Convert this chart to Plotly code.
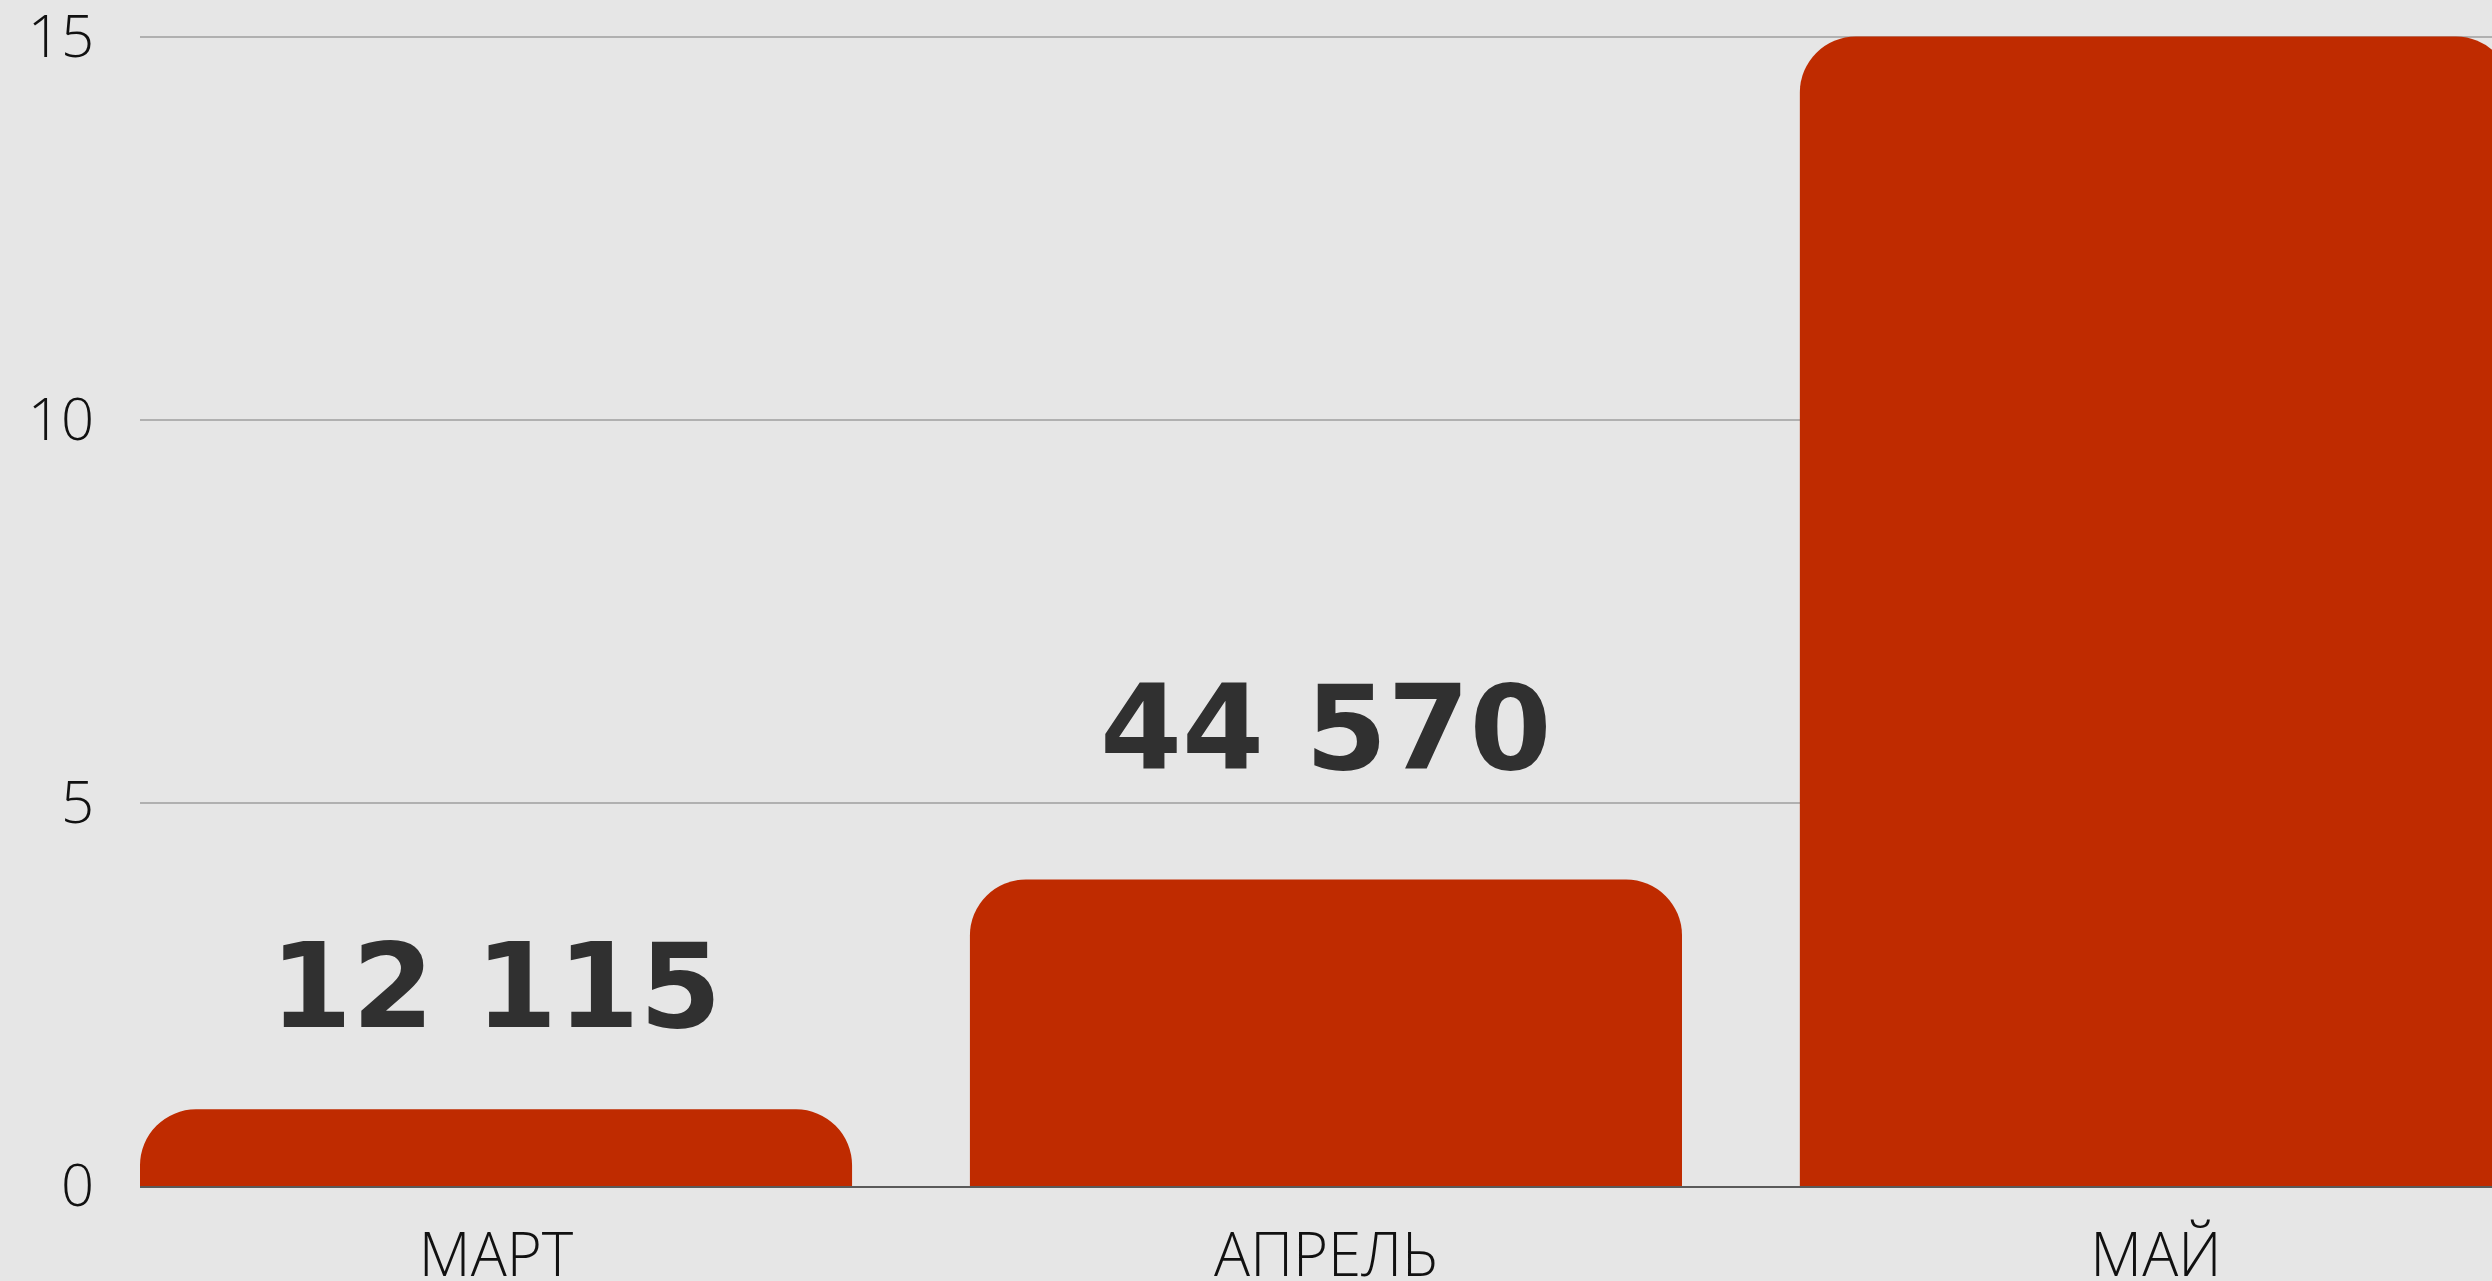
#! python3
# monthly bar chart with rounded bars and big value labels
import plotly.graph_objects as go

months = ['МАРТ', 'АПРЕЛЬ', 'МАЙ']
values = [1, 4, 15]
value_labels = ['12 115', '44 570']
y_ticks = [0, 5, 10, 15]

BAR_RED = '#bf2b00'
BG = '#e6e6e6'

fig = go.Figure(go.Bar(
    x=months,
    y=values,
    marker_color=BAR_RED,
    marker_line_width=0,
    width=0.858,
    hoverinfo='skip'))

# label offsets above bar tops, in pixels
label_shift = [123, 151]
for m, v, txt, dy in zip(months, values, value_labels, label_shift):
    fig.add_annotation(
        x=m, y=v, text=txt, showarrow=False,
        yanchor='middle', yshift=dy,
        font=dict(family='DejaVu Sans', size=118, color='#303030',
                  weight='bold'))

fig.update_layout(
    width=2492, height=1281,
    margin=dict(l=140, r=0, t=35, b=95),
    paper_bgcolor=BG,
    plot_bgcolor=BG,
    barcornerradius=56,
    showlegend=False,
    xaxis=dict(
        type='category',
        range=[-0.429, 2.405],
        automargin=False,
        showgrid=False,
        showline=True, linecolor='#5a5a5a', linewidth=2,
        ticks='',
        tickfont=dict(family='Open Sans', size=60, color='#111111',
                      weight=300),
        ticklabelstandoff=16,
        ticklabeloverflow='allow'),
    yaxis=dict(
        range=[0, 15.02],
        automargin=False,
        tickvals=y_ticks,
        showgrid=True, gridcolor='#b0b0b0', gridwidth=1.5,
        zeroline=False,
        showline=False,
        ticks='',
        tickfont=dict(family='Open Sans', size=58, color='#111111',
                      weight=300),
        ticklabelstandoff=45,
        ticklabeloverflow='allow'))

# drop the default page margin so the chart fills the window
fig.write_html("out.html",
               config={'displayModeBar': False},
               post_script="document.body.style.margin='0';"
                           "document.body.style.overflow='hidden';")
